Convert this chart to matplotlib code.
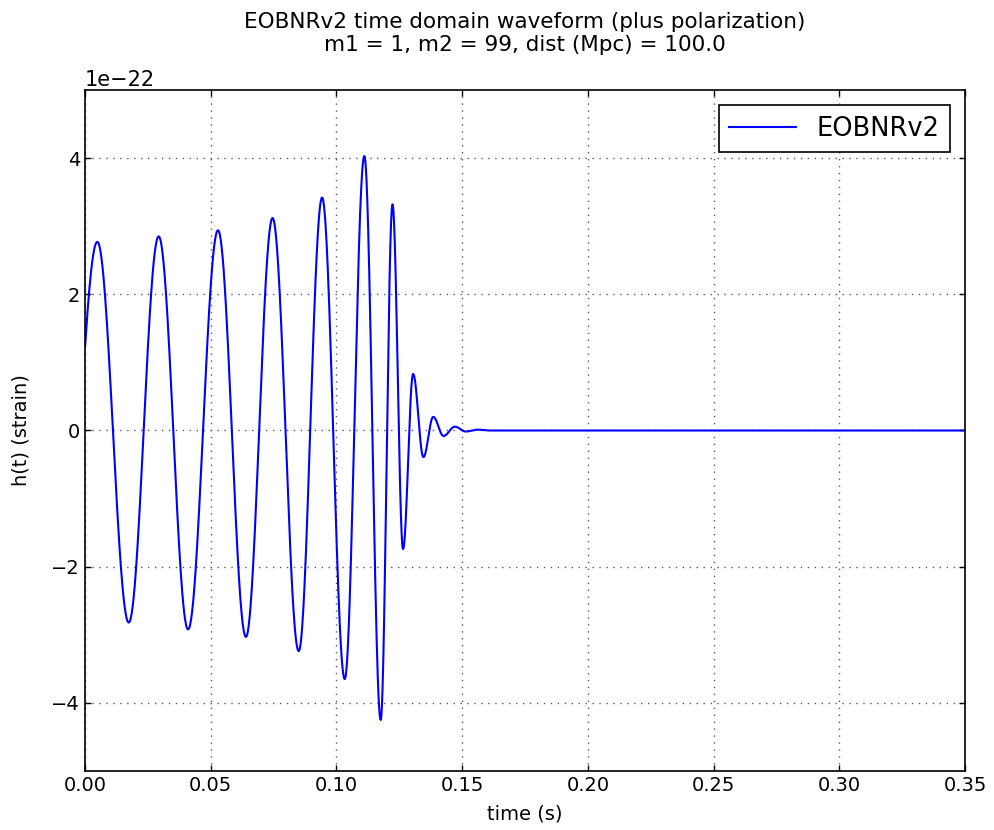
import numpy as np
import matplotlib
matplotlib.use('Agg')
from matplotlib import pyplot as plt

# extrema of the plus polarization (time in s, strain in units of 1e-22)
t_ext = [-0.0089, 0.0049, 0.0174, 0.0293, 0.0410, 0.0529, 0.0640, 0.0746,
         0.0850, 0.0943, 0.1033, 0.1111, 0.1176, 0.1223, 0.1265, 0.1305,
         0.1346, 0.1385, 0.1426, 0.1471, 0.1515, 0.1560, 0.1610]
h_ext = [-2.80, 2.77, -2.82, 2.85, -2.92, 2.94, -3.03, 3.12,
         -3.24, 3.42, -3.65, 4.03, -4.25, 3.32, -1.74, 0.83,
         -0.39, 0.20, -0.08, 0.056, -0.015, 0.012, 0.0]
t_end = 0.35

# smooth half-cosine arcs between consecutive extrema
t_list, h_list = [], []
for i in range(len(t_ext) - 1):
    s = np.linspace(0, 1, 60, endpoint=False)
    t_list.append(t_ext[i] + s * (t_ext[i+1] - t_ext[i]))
    h_list.append(0.5 * (h_ext[i] + h_ext[i+1]) + 0.5 * (h_ext[i] - h_ext[i+1]) * np.cos(np.pi * s))
t_list.append([t_ext[-1], t_end])
h_list.append([h_ext[-1], 0.0])
t = np.concatenate(t_list)
h = np.concatenate(h_list) * 1e-22
keep = t >= 0
t, h = t[keep], h[keep]

plt.rcParams['font.family'] = 'DejaVu Sans'
plt.rcParams['lines.scale_dashes'] = False
plt.rcParams['xtick.direction'] = 'in'
plt.rcParams['ytick.direction'] = 'in'
plt.rcParams['xtick.top'] = True
plt.rcParams['ytick.right'] = True
plt.rcParams['xtick.major.size'] = 4
plt.rcParams['ytick.major.size'] = 4

fig = plt.figure(figsize=(9.95, 8.3), dpi=100)
ax = fig.add_axes([85/995, 1 - 771/830, 880/995, 681/830])
ax.plot(t, h, color='b', lw=1.5, label='EOBNRv2')
ax.set_xlim(0, 0.35)
ax.set_ylim(-5e-22, 5e-22)
ax.set_xticks(np.arange(0, 0.351, 0.05))
ax.set_yticks(np.arange(-4e-22, 4.1e-22, 2e-22))
ax.grid(True, color='0.35', linestyle=(0, (1, 4)), linewidth=1.0)
ax.tick_params(labelsize=14, width=1)
ax.yaxis.get_offset_text().set_fontsize(15)
for sp in ax.spines.values():
    sp.set_linewidth(1.2)
ax.set_xlabel('time (s)', fontsize=14, labelpad=7)
ax.set_ylabel('h(t) (strain)', fontsize=14, labelpad=15)
ax.set_title('EOBNRv2 time domain waveform (plus polarization)\nm1 = 1, m2 = 99, dist (Mpc) = 100.0',
             fontsize=15.5, pad=28)
leg = ax.legend(loc='upper right', fontsize=18.5, fancybox=False, framealpha=1,
                edgecolor='k', handlelength=2.6, borderaxespad=0.6)
leg.get_frame().set_linewidth(1.2)
fig.savefig('out.png', dpi=100, facecolor='white')
